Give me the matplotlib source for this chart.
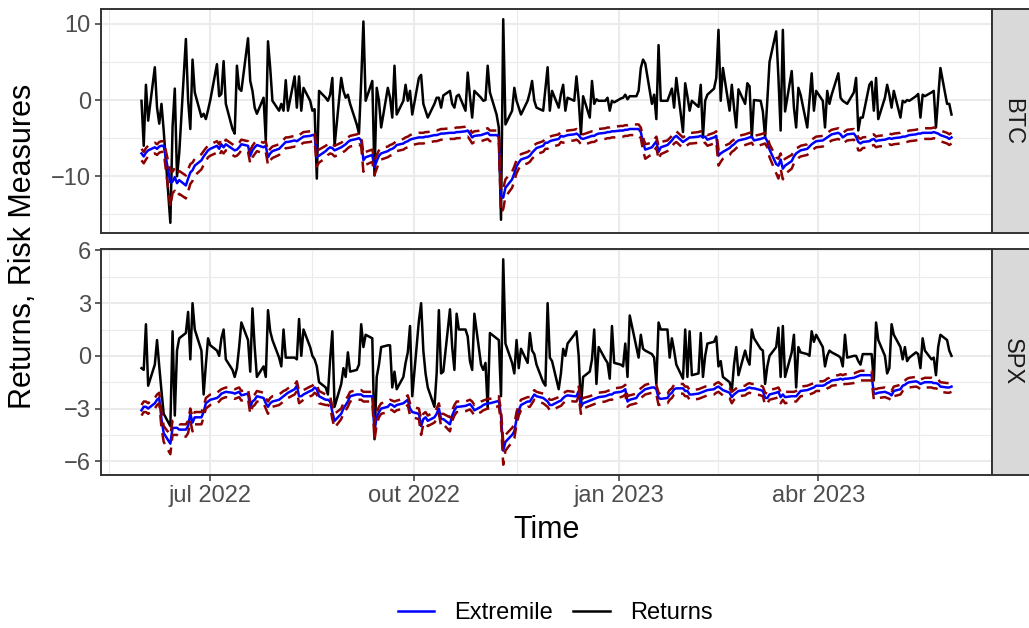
import numpy as np
import pandas as pd
import matplotlib
matplotlib.use('Agg')
import matplotlib.pyplot as plt
import matplotlib.dates as mdates
from matplotlib.lines import Line2D

plt.rcParams['font.family'] = ['Liberation Sans', 'DejaVu Sans']

# trading days, 31 may 2022 -> 31 may 2023
dates = pd.bdate_range('2022-05-31', periods=262)

btc_returns = [
    -0.1, -6.0, 2.0, -2.7, 4.3, -1.0, -3.1, -0.5, -4.0, -16.1,
    -3.5, 1.5, -10.0, -7.0, 8.0, 0.0, -3.8, 5.3, 1.0, -2.2,
    -1.8, -2.5, -1.3, 0.0, 4.7, 0.5, 0.8, 5.1, -0.5, -3.8,
    -4.4, 4.5, 1.5, 1.2, 8.1, 2.5, 1.2, -1.0, -1.8, 0.3,
    -5.3, 7.7, 4.2, -0.1, -1.4, -0.5, -1.4, 2.6, -1.4, 3.1,
    -1.0, 3.1, -1.4, 1.6, -0.1, -1.4, -1.2, -10.3, 1.2, 0.3,
    -0.1, 0.7, 2.9, -6.0, 2.9, 1.2, 0.3, 0.7, -0.5, -3.2,
    -4.4, 2.5, 10.3, -0.1, 2.5, -9.9, 1.6, -0.1, -3.6, 1.6,
    0.3, -2.3, 4.5, -1.9, -0.1, 2.0, -0.1, 1.2, -1.9, 2.9,
    3.3, -0.5, -1.4, -2.3, -0.5, 0.3, 0.3, -1.0, 0.6, 1.2,
    -0.5, -1.0, 0.5, 0.7, -1.4, 3.6, 0.5, -2.3, 1.2, 0.3,
    -0.1, 0.0, 4.5, 1.0, -1.9, -3.6, -15.7, 10.6, -3.2, -1.4,
    1.6, -0.1, -1.0, -1.9, -0.1, 1.0, 2.5, -0.1, -1.0, -1.4,
    1.5, 4.3, -1.4, 1.2, -1.0, 0.8, 2.0, -1.4, 0.3, -0.1,
    3.1, 0.0, -4.5, 0.5, -2.3, 2.5, -0.5, 0.1, -0.1, -0.1,
    0.3, -1.4, -0.1, -0.3, 0.2, 0.3, 0.7, 0.1, 0.5, 0.5,
    1.2, 4.2, 5.3, 4.8, -0.5, 0.7, -2.5, 7.2, -0.1, -0.1,
    0.7, 1.5, -1.0, 2.9, -4.2, 2.2, 0.5, -1.4, -0.1, -0.9,
    2.0, -4.9, -0.1, 0.7, 1.5, 2.9, 9.2, -0.1, 4.2, -1.4,
    2.0, -1.0, -3.6, 1.4, -0.5, 2.2, 1.8, -4.9, 0.0, -0.1,
    -1.5, -4.9, -0.1, 5.0, 9.0, 3.0, -4.0, 9.2, -1.5, 3.8,
    -1.0, -3.6, 1.6, 0.7, -3.6, -0.1, 3.5, -1.4, 1.2, -0.1,
    -3.6, 1.2, -0.5, 0.7, 3.5, 0.3, -0.1, -0.3, -0.5, 1.0,
    2.9, -4.0, -2.3, -2.3, 2.0, 2.4, -1.4, 2.9, -2.5, 0.3,
    2.0, 0.7, -1.0, 1.2, -2.3, -0.1, -0.3, 0.0, -0.1, 0.5,
    0.8, -2.3, 0.7, 0.5, 1.0, 1.2, -3.6, 0.3, 4.2, -0.5,
    -0.5, -1.9]

btc_extremile = [
    -7.0, -7.4, -6.9, -6.6, -6.2, -6.4, -6.1, -6.0, -6.0, -10.8,
    -10.7, -10.1, -10.9, -10.5, -11.2, -10.3, -9.5, -9.2, -8.6, -7.9,
    -7.4, -7.0, -6.6, -6.4, -6.0, -6.4, -5.8, -6.2, -5.8, -6.4,
    -6.6, -6.5, -6.2, -5.8, -6.0, -7.3, -6.6, -6.2, -5.9, -6.2,
    -6.0, -7.5, -7.0, -6.7, -6.4, -6.1, -5.8, -5.5, -5.5, -5.3,
    -5.4, -5.2, -5.0, -4.8, -4.7, -4.6, -4.6, -7.5, -7.3, -6.7,
    -6.4, -6.2, -6.3, -6.6, -6.2, -6.0, -5.8, -5.5, -5.3, -5.1,
    -5.0, -5.3, -7.9, -7.5, -7.2, -8.8, -8.0, -7.3, -7.0, -6.7,
    -6.5, -6.4, -6.2, -5.9, -5.7, -5.5, -5.4, -5.2, -5.1, -4.9,
    -4.9, -4.9, -4.8, -4.8, -4.6, -4.6, -4.5, -4.4, -4.4, -4.3,
    -4.3, -4.3, -4.2, -4.2, -4.1, -4.0, -4.4, -4.9, -4.7, -4.6,
    -4.5, -4.4, -4.3, -4.6, -4.6, -4.8, -12.6, -12.8, -11.5, -10.4,
    -9.6, -8.7, -8.2, -7.8, -7.5, -7.3, -6.9, -6.6, -6.3, -6.0,
    -5.6, -5.6, -5.4, -5.3, -5.1, -4.7, -4.8, -4.7, -4.6, -4.5,
    -4.4, -4.6, -5.0, -5.1, -4.8, -4.7, -4.7, -4.5, -4.4, -4.3,
    -4.2, -4.2, -4.1, -4.1, -4.0, -4.0, -3.9, -3.9, -3.8, -3.8,
    -3.8, -4.2, -5.6, -6.5, -6.2, -5.8, -5.4, -6.8, -6.2, -5.9,
    -5.6, -5.3, -4.9, -4.7, -5.5, -5.3, -5.1, -4.9, -4.9, -4.8,
    -4.7, -4.9, -4.8, -5.2, -4.9, -4.7, -7.3, -7.0, -6.8, -6.3,
    -6.0, -5.8, -5.5, -5.3, -5.1, -5.0, -4.9, -4.8, -5.3, -5.1,
    -5.0, -4.9, -5.4, -6.5, -8.4, -8.6, -7.8, -9.0, -8.6, -8.0,
    -7.4, -7.0, -6.8, -6.6, -6.4, -6.1, -5.8, -5.6, -5.4, -5.3,
    -5.1, -4.9, -4.7, -4.5, -4.3, -4.5, -4.9, -4.7, -4.5, -4.4,
    -4.8, -5.5, -5.7, -5.5, -5.4, -5.2, -5.1, -5.4, -5.3, -5.2,
    -5.1, -5.0, -5.1, -5.0, -4.9, -4.8, -4.8, -4.7, -4.6, -4.5,
    -4.4, -4.4, -4.3, -4.3, -4.3, -4.2, -4.3, -4.4, -4.6, -4.9,
    -5.1, -4.9]

btc_upper = [
    -6.4, -6.8, -6.3, -6.0, -5.6, -5.8, -5.5, -5.4, -5.4, -9.3,
    -9.4, -8.9, -9.6, -9.3, -9.9, -9.1, -8.4, -8.2, -7.7, -7.1,
    -6.7, -6.3, -6.0, -5.8, -5.4, -5.8, -5.2, -5.6, -5.2, -5.8,
    -6.0, -5.9, -5.6, -5.2, -5.4, -6.6, -6.0, -5.6, -5.3, -5.6,
    -5.4, -6.8, -6.4, -6.1, -5.8, -5.5, -5.2, -4.9, -4.9, -4.7,
    -4.8, -4.6, -4.4, -4.2, -4.1, -4.0, -4.0, -6.6, -6.5, -6.0,
    -5.8, -5.6, -5.7, -6.0, -5.6, -5.4, -5.2, -4.9, -4.7, -4.5,
    -4.4, -4.7, -7.1, -6.8, -6.5, -7.9, -7.2, -6.6, -6.3, -6.1,
    -5.9, -5.8, -5.6, -5.3, -5.1, -4.9, -4.8, -4.6, -4.5, -4.3,
    -4.3, -4.3, -4.2, -4.2, -4.0, -4.0, -3.9, -3.8, -3.8, -3.7,
    -3.7, -3.7, -3.6, -3.6, -3.5, -3.4, -3.8, -4.3, -4.1, -4.0,
    -3.9, -3.8, -3.7, -4.0, -4.0, -4.2, -11.2, -11.6, -10.4, -9.4,
    -8.7, -7.9, -7.4, -7.1, -6.8, -6.6, -6.2, -5.9, -5.7, -5.4,
    -5.0, -5.0, -4.8, -4.7, -4.5, -4.1, -4.2, -4.1, -4.0, -3.9,
    -3.8, -4.0, -4.4, -4.5, -4.2, -4.1, -4.1, -3.9, -3.8, -3.7,
    -3.6, -3.6, -3.5, -3.5, -3.4, -3.4, -3.3, -3.3, -3.2, -3.2,
    -3.2, -3.6, -4.9, -5.8, -5.6, -5.2, -4.8, -6.0, -5.5, -5.3,
    -5.0, -4.7, -4.3, -4.1, -4.9, -4.7, -4.5, -4.3, -4.3, -4.2,
    -4.1, -4.3, -4.2, -4.6, -4.3, -4.1, -6.5, -6.3, -6.1, -5.7,
    -5.4, -5.2, -4.9, -4.7, -4.5, -4.4, -4.3, -4.2, -4.7, -4.5,
    -4.4, -4.3, -4.8, -5.8, -7.5, -7.7, -7.0, -8.0, -7.7, -7.2,
    -6.7, -6.3, -6.2, -6.0, -5.8, -5.5, -5.2, -5.0, -4.8, -4.7,
    -4.5, -4.3, -4.1, -3.9, -3.7, -3.9, -4.3, -4.1, -3.9, -3.8,
    -4.2, -4.9, -5.1, -4.9, -4.8, -4.6, -4.5, -4.8, -4.7, -4.6,
    -4.5, -4.4, -4.5, -4.4, -4.3, -4.2, -4.2, -4.1, -4.0, -3.9,
    -3.8, -3.8, -3.7, -3.7, -3.7, -3.6, -3.7, -3.8, -4.0, -4.3,
    -4.5, -4.3]

btc_lower = [
    -7.9, -8.3, -7.8, -7.4, -7.0, -7.2, -6.9, -6.8, -6.8, -14.0,
    -12.2, -11.9, -12.6, -12.3, -12.9, -12.0, -11.0, -10.6, -9.9, -9.1,
    -8.5, -8.0, -7.5, -7.3, -6.9, -7.3, -6.7, -7.0, -6.6, -7.2,
    -7.4, -7.3, -7.0, -6.6, -6.8, -8.3, -7.5, -7.1, -6.7, -7.0,
    -6.8, -8.5, -7.9, -7.6, -7.2, -6.9, -6.6, -6.3, -6.3, -6.1,
    -6.2, -6.0, -5.8, -5.6, -5.5, -5.4, -5.4, -8.7, -8.2, -7.6,
    -7.2, -7.0, -7.1, -7.4, -7.0, -6.8, -6.6, -6.3, -6.1, -5.9,
    -5.8, -6.1, -9.4, -8.5, -8.1, -9.8, -9.0, -8.2, -7.8, -7.5,
    -7.3, -7.2, -7.0, -6.7, -6.5, -6.3, -6.2, -6.0, -5.9, -5.7,
    -5.7, -5.7, -5.6, -5.6, -5.4, -5.4, -5.3, -5.2, -5.2, -5.1,
    -5.1, -5.1, -5.0, -5.0, -4.9, -4.8, -5.2, -5.7, -5.5, -5.4,
    -5.3, -5.2, -5.1, -5.4, -5.4, -5.6, -14.8, -14.3, -12.7, -11.5,
    -10.6, -9.6, -9.0, -8.6, -8.3, -8.1, -7.7, -7.4, -7.1, -6.8,
    -6.4, -6.4, -6.2, -6.1, -5.9, -5.5, -5.6, -5.5, -5.4, -5.3,
    -5.2, -5.4, -5.8, -5.9, -5.6, -5.5, -5.5, -5.3, -5.2, -5.1,
    -5.0, -5.0, -4.9, -4.9, -4.8, -4.8, -4.7, -4.7, -4.6, -4.6,
    -4.6, -5.0, -6.6, -7.7, -7.1, -6.6, -6.2, -7.8, -7.1, -6.7,
    -6.4, -6.1, -5.7, -5.5, -6.3, -6.1, -5.9, -5.7, -5.7, -5.6,
    -5.5, -5.7, -5.6, -6.0, -5.7, -5.5, -8.6, -8.1, -7.7, -7.2,
    -6.8, -6.6, -6.3, -6.1, -5.9, -5.8, -5.7, -5.6, -6.1, -5.9,
    -5.8, -5.7, -6.2, -7.5, -9.6, -10.3, -9.0, -10.4, -9.7, -9.0,
    -8.3, -7.9, -7.6, -7.4, -7.2, -6.9, -6.6, -6.4, -6.2, -6.1,
    -5.9, -5.7, -5.5, -5.3, -5.1, -5.3, -5.7, -5.5, -5.3, -5.2,
    -5.6, -6.6, -6.6, -6.3, -6.2, -6.0, -5.9, -6.2, -6.1, -6.0,
    -5.9, -5.8, -5.9, -5.8, -5.7, -5.6, -5.6, -5.5, -5.4, -5.3,
    -5.2, -5.2, -5.1, -5.1, -5.1, -5.0, -5.1, -5.2, -5.4, -5.7,
    -5.9, -5.7]

spx_returns = [
    -0.7, -0.8, 1.8, -1.7, -0.5, 0.9, -0.6, -2.0, -3.3, -4.0,
    1.4, -3.4, 0.3, 1.0, 1.3, 2.5, -0.2, 3.0, 1.5, 0.3,
    -2.2, -0.5, 1.0, 0.6, 0.3, 0.0, 1.0, 1.5, -0.2, -0.8,
    -1.2, -0.7, 0.5, 1.9, 0.9, -0.9, 2.7, 0.5, -1.2, -0.6,
    -1.2, 2.6, 1.4, 0.9, -0.1, -0.6, 1.5, -0.1, -0.1, -0.1,
    -0.2, 2.1, 0.0, 1.5, 0.5, 0.0, -0.2, -0.6, -1.5, -1.8,
    -2.2, -0.2, 1.4, -2.9, -1.6, -0.7, -1.2, 0.2, -0.9, -0.8,
    -0.5, 1.8, 0.5, 1.2, 1.0, -4.75, -1.2, -0.5, 0.5, 0.6,
    0.6, -1.8, -0.9, -1.9, -1.2, -0.4, 0.2, 1.7, -2.3, 2.0,
    3.0, 0.3, -1.0, -1.8, -2.9, -1.0, 2.6, -1.0, -0.9, 2.65,
    0.5, -0.8, 2.4, 1.5, 1.5, 1.1, -0.3, -0.8, 2.4, -0.5,
    -0.8, -0.4, -3.0, 1.3, 1.0, 0.9, -2.3, 5.5, 0.7, -0.4,
    -1.0, 0.9, -0.7, 0.4, -0.4, 1.3, 0.3, 0.1, -0.5, -1.5,
    -1.7, 3.0, -0.1, -0.3, -1.9, -1.0, 0.4, 0.0, 0.7, 1.2,
    1.4, 0.0, -2.9, -1.2, -0.9, -0.2, 1.5, -1.6, 0.5, -0.2,
    -0.4, -1.3, 1.7, -0.4, -0.5, -0.6, 0.7, -1.2, 2.3, 0.5,
    -0.1, 1.2, 0.4, 0.3, 0.1, -0.1, -1.6, 1.9, 1.5, 1.5,
    -0.1, 1.0, 0.3, -0.5, -1.3, 1.5, -1.2, 1.4, -1.1, -1.0,
    1.3, -1.2, 0.0, 0.7, 0.8, 1.1, -0.6, -0.3, -1.2, -1.5,
    -2.0, -0.5, 0.5, -1.1, 0.3, -0.2, -0.5, 1.5, 1.0, 0.4,
    0.3, -1.6, -0.6, 0.0, 0.5, 1.6, -1.2, 1.7, -1.2, 0.2,
    1.2, -1.8, 0.5, 0.2, 0.1, 0.0, 1.4, 0.8, 1.2, 0.5,
    -0.6, 0.0, 0.3, 0.2, 0.0, -0.1, -0.6, 1.2, -0.1, 0.0,
    0.0, -0.3, -0.5, 0.1, 0.1, 0.1, -1.4, 1.9, 0.9, 0.0,
    -1.0, -0.7, 1.8, 1.2, 0.5, -0.2, 0.5, -0.3, -0.1, 0.2,
    0.1, -0.7, 1.0, 0.3, -0.2, -0.1, -1.1, 0.5, 1.2, 0.9,
    0.3, 0.0]

spx_extremile = [
    -3.1, -2.9, -2.9, -3.0, -2.7, -2.5, -2.4, -3.6, -4.4, -5.0,
    -4.1, -4.1, -4.1, -4.2, -4.2, -4.0, -3.3, -3.8, -3.5, -3.5,
    -3.2, -2.7, -2.6, -2.5, -2.4, -2.3, -2.15, -2.1, -2.05, -2.1,
    -2.15, -2.1, -2.05, -2.25, -2.15, -2.9, -2.6, -2.5, -2.3, -2.4,
    -2.7, -2.9, -2.7, -2.6, -2.5, -2.4, -2.3, -2.2, -2.1, -1.9,
    -1.7, -2.3, -2.3, -2.2, -2.0, -1.95, -1.8, -1.9, -2.3, -2.5,
    -2.5, -2.6, -3.2, -3.7, -3.3, -3.0, -2.8, -2.6, -2.3, -2.2,
    -2.2, -2.2, -2.3, -2.3, -2.3, -4.2, -3.5, -3.2, -3.0, -2.9,
    -2.75, -2.8, -2.9, -2.8, -2.7, -2.6, -2.5, -3.0, -3.2, -3.3,
    -4.0, -3.6, -3.5, -3.7, -3.5, -3.3, -3.0, -3.6, -3.6, -3.9,
    -3.4, -3.1, -2.9, -2.9, -2.85, -2.8, -2.75, -2.9, -3.1, -2.9,
    -2.8, -2.75, -2.7, -2.7, -2.6, -2.55, -3.4, -5.4, -4.9, -4.5,
    -4.3, -3.6, -3.1, -2.8, -2.6, -2.6, -2.4, -2.2, -2.3, -2.4,
    -2.5, -2.6, -2.8, -2.8, -2.6, -2.55, -2.4, -2.3, -2.25, -2.3,
    -2.3, -2.0, -2.9, -2.7, -2.55, -2.5, -2.45, -2.4, -2.35, -2.3,
    -2.25, -2.2, -2.2, -2.1, -2.05, -2.0, -1.9, -2.6, -2.5, -2.4,
    -2.2, -2.1, -2.0, -1.9, -1.8, -1.8, -1.9, -2.4, -2.45, -2.4,
    -2.2, -2.1, -1.9, -1.85, -1.85, -2.0, -2.0, -2.2, -2.2, -2.15,
    -2.1, -2.05, -2.0, -1.95, -1.9, -1.8, -1.75, -1.85, -1.95, -2.1,
    -2.35, -2.2, -2.1, -2.0, -1.95, -1.85, -1.8, -1.85, -1.85, -1.95,
    -2.0, -2.4, -2.4, -2.2, -2.1, -2.05, -2.35, -2.2, -2.35, -2.3,
    -2.3, -2.3, -2.15, -2.0, -1.95, -1.9, -1.85, -1.8, -1.7, -1.7,
    -1.65, -1.55, -1.5, -1.4, -1.35, -1.3, -1.35, -1.3, -1.3, -1.25,
    -1.2, -1.15, -1.1, -1.1, -1.1, -1.1, -2.15, -2.15, -2.1, -2.05,
    -2.1, -2.15, -2.25, -2.0, -1.9, -1.7, -1.65, -1.55, -1.5, -1.45,
    -1.5, -1.6, -1.55, -1.5, -1.5, -1.55, -1.55, -1.6, -1.75, -1.8,
    -1.8, -1.75]

spx_upper = [
    -2.8, -2.6, -2.6, -2.7, -2.4, -2.2, -2.1, -3.2, -4.0, -4.5,
    -3.7, -3.7, -3.8, -3.9, -3.9, -3.7, -3.0, -3.5, -3.2, -3.2,
    -2.9, -2.4, -2.3, -2.2, -2.1, -2.0, -1.9, -1.85, -1.8, -1.85,
    -1.9, -1.85, -1.8, -2.0, -1.9, -2.6, -2.3, -2.2, -2.0, -2.1,
    -2.4, -2.6, -2.4, -2.3, -2.2, -2.1, -2.0, -1.95, -1.85, -1.65,
    -1.45, -2.0, -2.0, -1.95, -1.75, -1.7, -1.55, -1.65, -2.0, -2.2,
    -2.2, -2.3, -2.9, -3.3, -3.0, -2.7, -2.5, -2.3, -2.05, -1.95,
    -1.95, -1.95, -2.05, -2.05, -2.05, -3.8, -3.2, -2.9, -2.7, -2.6,
    -2.5, -2.55, -2.6, -2.55, -2.45, -2.35, -2.25, -2.7, -2.9, -3.0,
    -3.6, -3.3, -3.2, -3.4, -3.2, -3.0, -2.7, -3.3, -3.3, -3.5,
    -3.1, -2.8, -2.6, -2.6, -2.6, -2.55, -2.5, -2.6, -2.8, -2.6,
    -2.55, -2.5, -2.45, -2.45, -2.35, -2.3, -3.1, -4.9, -4.5, -4.1,
    -3.9, -3.2, -2.8, -2.5, -2.35, -2.35, -2.15, -1.95, -2.05, -2.15,
    -2.25, -2.35, -2.5, -2.5, -2.35, -2.3, -2.15, -2.05, -2.0, -2.05,
    -2.05, -1.75, -2.6, -2.4, -2.3, -2.25, -2.2, -2.15, -2.1, -2.05,
    -2.0, -1.95, -1.95, -1.85, -1.8, -1.75, -1.65, -2.3, -2.25, -2.15,
    -1.95, -1.85, -1.75, -1.65, -1.55, -1.55, -1.65, -2.1, -2.2, -2.15,
    -1.95, -1.85, -1.65, -1.6, -1.6, -1.75, -1.75, -1.95, -1.95, -1.9,
    -1.85, -1.8, -1.75, -1.7, -1.65, -1.55, -1.5, -1.6, -1.7, -1.85,
    -2.05, -1.95, -1.85, -1.75, -1.7, -1.6, -1.55, -1.6, -1.6, -1.7,
    -1.75, -2.1, -2.15, -1.95, -1.85, -1.8, -2.05, -1.95, -2.05, -2.05,
    -2.05, -2.0, -1.9, -1.75, -1.7, -1.65, -1.6, -1.55, -1.45, -1.45,
    -1.4, -1.3, -1.25, -1.15, -1.1, -1.05, -1.1, -1.05, -1.05, -1.0,
    -0.95, -0.9, -0.85, -0.85, -0.85, -0.85, -1.85, -1.9, -1.85, -1.8,
    -1.85, -1.9, -2.0, -1.75, -1.65, -1.45, -1.4, -1.3, -1.25, -1.2,
    -1.25, -1.35, -1.3, -1.25, -1.25, -1.3, -1.3, -1.35, -1.5, -1.55,
    -1.55, -1.5]

spx_lower = [
    -3.4, -3.2, -3.2, -3.3, -3.0, -2.8, -2.7, -4.1, -4.9, -5.6,
    -4.5, -4.5, -4.5, -4.6, -4.6, -4.4, -3.7, -4.3, -3.9, -3.9,
    -3.5, -3.0, -2.9, -2.8, -2.7, -2.6, -2.45, -2.4, -2.35, -2.4,
    -2.45, -2.4, -2.35, -2.55, -2.45, -3.3, -2.9, -2.8, -2.6, -2.7,
    -3.0, -3.3, -3.0, -2.9, -2.8, -2.7, -2.6, -2.5, -2.4, -2.2,
    -2.0, -2.7, -2.6, -2.5, -2.3, -2.25, -2.1, -2.2, -2.7, -2.8,
    -2.8, -2.9, -3.6, -4.1, -3.6, -3.3, -3.1, -2.9, -2.6, -2.5,
    -2.5, -2.5, -2.6, -2.6, -2.6, -4.8, -3.9, -3.5, -3.3, -3.2,
    -3.05, -3.1, -3.2, -3.1, -3.0, -2.9, -2.8, -3.4, -3.5, -3.6,
    -4.5, -3.9, -3.8, -4.0, -3.8, -3.6, -3.3, -4.0, -3.9, -4.3,
    -3.7, -3.4, -3.2, -3.2, -3.15, -3.1, -3.05, -3.2, -3.4, -3.2,
    -3.1, -3.05, -3.0, -3.0, -2.9, -2.85, -3.8, -6.2, -5.4, -4.9,
    -4.7, -3.9, -3.4, -3.1, -2.9, -2.9, -2.7, -2.5, -2.6, -2.7,
    -2.8, -2.9, -3.1, -3.1, -2.9, -2.85, -2.7, -2.6, -2.55, -2.6,
    -2.6, -2.3, -3.3, -3.0, -2.85, -2.8, -2.75, -2.7, -2.65, -2.6,
    -2.55, -2.5, -2.5, -2.4, -2.35, -2.3, -2.2, -2.9, -2.8, -2.7,
    -2.5, -2.4, -2.3, -2.2, -2.1, -2.1, -2.2, -2.8, -2.75, -2.7,
    -2.5, -2.4, -2.2, -2.15, -2.15, -2.3, -2.3, -2.5, -2.5, -2.45,
    -2.4, -2.35, -2.3, -2.25, -2.2, -2.1, -2.05, -2.15, -2.25, -2.4,
    -2.7, -2.5, -2.4, -2.3, -2.25, -2.15, -2.1, -2.15, -2.15, -2.25,
    -2.3, -2.8, -2.7, -2.5, -2.4, -2.35, -2.7, -2.5, -2.7, -2.6,
    -2.6, -2.6, -2.45, -2.3, -2.25, -2.2, -2.15, -2.1, -2.0, -2.0,
    -1.95, -1.85, -1.8, -1.7, -1.65, -1.6, -1.65, -1.6, -1.6, -1.55,
    -1.5, -1.45, -1.4, -1.4, -1.4, -1.4, -2.5, -2.45, -2.4, -2.35,
    -2.4, -2.45, -2.55, -2.3, -2.2, -2.0, -1.95, -1.85, -1.8, -1.75,
    -1.8, -1.9, -1.85, -1.8, -1.8, -1.85, -1.85, -1.9, -2.05, -2.1,
    -2.1, -2.05]

x_tick_dates = ['2022-07-01', '2022-10-01', '2023-01-01', '2023-04-01']
x_tick_labels = ['jul 2022', 'out 2022', 'jan 2023', 'abr 2023']
# breaks one step outside the range, only used for the minor grid
x_outer_breaks = ['2022-04-01', '2023-07-01']
btc_yticks = [-20, -10, 0, 10, 20]
spx_yticks = [-9, -6, -3, 0, 3, 6, 9]

W, H = 1029, 628
fig = plt.figure(figsize=(W / 100, H / 100), dpi=100)
fig.patch.set_facecolor('white')

panels = [
    ('BTC', btc_returns, btc_extremile, btc_lower, btc_upper, btc_yticks, (9, 233)),
    ('SPX', spx_returns, spx_extremile, spx_lower, spx_upper, spx_yticks, (249, 475)),
]

px_left, px_right = 101, 992
xnum = mdates.date2num(dates)
span = xnum[-1] - xnum[0]
xlim = (xnum[0] - 0.05 * span, xnum[-1] + 0.05 * span)

major_x = mdates.date2num(pd.to_datetime(x_tick_dates))
all_x = np.sort(np.concatenate([major_x, mdates.date2num(pd.to_datetime(x_outer_breaks))]))
minor_x = (all_x[:-1] + all_x[1:]) / 2

for k, (name, ret, ext, lo, up, yt, (ptop, pbot)) in enumerate(panels):
    ax = fig.add_axes([px_left / W, 1 - pbot / H, (px_right - px_left) / W, (pbot - ptop) / H])
    ax.plot(dates, ret, color='black', lw=1.8, zorder=3)
    ax.plot(dates, ext, color='#0000FF', lw=1.8, zorder=4)
    ax.plot(dates, lo, color='#8B0000', lw=1.8, dashes=(4.5, 2.8), zorder=5)
    ax.plot(dates, up, color='#8B0000', lw=1.8, dashes=(4.5, 2.8), zorder=5)

    vals = np.concatenate([ret, ext, lo, up])
    vmin, vmax = vals.min(), vals.max()
    pad = 0.05 * (vmax - vmin)

    ax.set_yticks(yt)
    yt_arr = np.array(yt, dtype=float)
    ax.set_yticks((yt_arr[:-1] + yt_arr[1:]) / 2, minor=True)
    ax.set_yticklabels([str(v).replace('-', '\u2212') for v in yt])
    ax.set_xticks(major_x)
    ax.set_xticks(minor_x, minor=True)
    if k == len(panels) - 1:
        ax.set_xticklabels(x_tick_labels)
    else:
        ax.set_xticklabels([])
    ax.set_ylim(vmin - pad, vmax + pad)
    ax.set_xlim(xlim)

    ax.grid(which='major', color='#EBEBEB', lw=1.5, zorder=0)
    ax.grid(which='minor', color='#EBEBEB', lw=0.8, zorder=0)
    ax.set_axisbelow(True)
    for sp in ax.spines.values():
        sp.set_color('#333333')
        sp.set_linewidth(1.4)
    ax.tick_params(which='major', length=4.3, width=1.1, color='#333333',
                   labelsize=17, labelcolor='#4D4D4D', pad=3)
    ax.tick_params(which='minor', length=0)
    if k != len(panels) - 1:
        ax.tick_params(axis='x', which='major', length=0)

    # facet strip on the right
    sax = fig.add_axes([px_right / W, 1 - pbot / H, 40 / W, (pbot - ptop) / H])
    sax.set_facecolor('#D9D9D9')
    sax.set_xticks([])
    sax.set_yticks([])
    for sp in sax.spines.values():
        sp.set_color('#333333')
        sp.set_linewidth(1.4)
    sax.text(20 / 40, 0.5, name, rotation=-90, ha='center', va='center',
             fontsize=17, color='#1A1A1A', transform=sax.transAxes)

fig.text(23.5 / W, 1 - 246 / H, 'Returns, Risk Measures', rotation=90,
         ha='center', va='center', fontsize=22, color='black')
fig.text((px_left + px_right) / 2 / W, 1 - 530 / H, 'Time',
         ha='center', va='center', fontsize=22, color='black')

handles = [Line2D([], [], color='#0000FF', lw=1.8),
           Line2D([], [], color='black', lw=1.8)]
fig.legend(handles, ['Extremile', 'Returns'], loc='center',
           bbox_to_anchor=(555 / W, 1 - 613 / H), ncol=2, frameon=False,
           fontsize=17, handlelength=1.55, handletextpad=0.85,
           columnspacing=0.85)

fig.savefig('out.png', dpi=100, facecolor='white')
